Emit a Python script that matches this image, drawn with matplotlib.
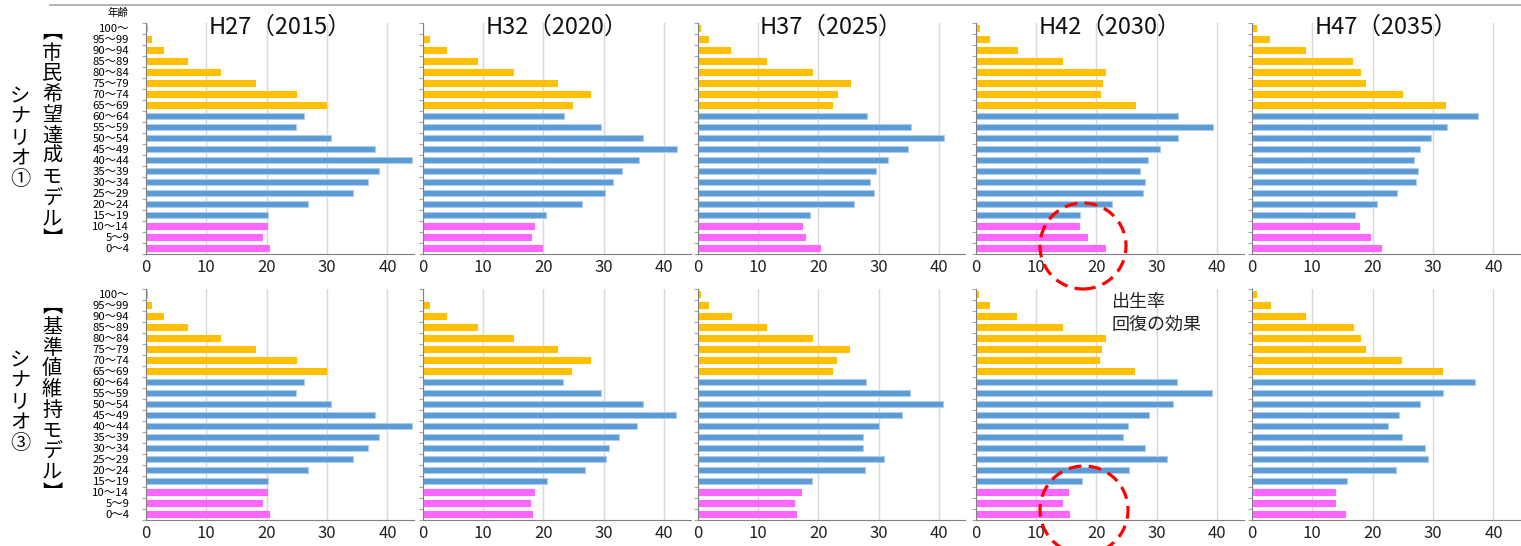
import numpy as np
import matplotlib
matplotlib.use("Agg")
import matplotlib.pyplot as plt
from matplotlib.patches import Ellipse
from matplotlib.lines import Line2D

plt.rcParams['font.family'] = ['Noto Sans CJK JP', 'DejaVu Sans']

# --- data (top row of each panel = 100～) ---
ages = ["100～", "95～99", "90～94", "85～89", "80～84", "75～79", "70～74", "65～69",
        "60～64", "55～59", "50～54", "45～49", "40～44", "35～39", "30～34", "25～29",
        "20～24", "15～19", "10～14", "5～9", "0～4"]
years = ["H27（2015）", "H32（2020）", "H37（2025）", "H42（2030）", "H47（2035）"]

# シナリオ① 市民希望達成モデル
s1_2015 = [0.2, 0.8, 2.8, 6.8, 12.3, 18.1, 24.9, 29.8, 26.2, 24.8, 30.7, 38.0, 44.1, 38.6, 36.7, 34.3, 26.8, 20.2, 20.1, 19.2, 20.4]
s1_2020 = [0.1, 1.1, 3.9, 9.0, 15.0, 22.3, 27.8, 24.8, 23.4, 29.5, 36.6, 42.2, 35.9, 33.1, 31.5, 30.2, 26.4, 20.4, 18.5, 18.0, 19.8]
s1_2025 = [0.4, 1.8, 5.4, 11.4, 19.0, 25.3, 23.1, 22.3, 28.1, 35.4, 40.9, 34.8, 31.6, 29.5, 28.6, 29.2, 26.0, 18.7, 17.3, 17.8, 20.3]
s1_2030 = [0.5, 2.2, 6.8, 14.3, 21.5, 20.9, 20.7, 26.5, 33.6, 39.3, 33.5, 30.6, 28.5, 27.3, 28.1, 27.8, 22.6, 17.3, 17.1, 18.4, 21.5]
s1_2035 = [0.65, 2.8, 8.8, 16.6, 17.9, 18.7, 24.9, 32.0, 37.5, 32.3, 29.6, 27.8, 26.8, 27.5, 27.1, 24.0, 20.7, 17.1, 17.7, 19.6, 21.4]

# シナリオ③ 基準値維持モデル
s3_2015 = [0.2, 0.8, 2.8, 6.8, 12.3, 18.1, 24.9, 29.8, 26.2, 24.8, 30.7, 38.0, 44.1, 38.6, 36.7, 34.3, 26.8, 20.2, 20.1, 19.2, 20.4]
s3_2020 = [0.1, 1.1, 3.9, 9.0, 15.0, 22.3, 27.8, 24.6, 23.3, 29.5, 36.6, 42.0, 35.5, 32.5, 30.9, 30.4, 27.0, 20.6, 18.5, 17.8, 18.2]
s3_2025 = [0.35, 1.7, 5.5, 11.4, 18.9, 25.1, 23.0, 22.2, 27.9, 35.2, 40.6, 33.9, 30.0, 27.4, 27.5, 30.9, 27.8, 18.9, 17.2, 16.0, 16.4]
s3_2030 = [0.45, 2.3, 6.7, 14.4, 21.5, 20.8, 20.5, 26.3, 33.3, 39.1, 32.8, 28.7, 25.3, 24.4, 28.0, 31.7, 25.5, 17.6, 15.3, 14.4, 15.5]
s3_2035 = [0.65, 3.0, 8.8, 16.7, 17.9, 18.7, 24.7, 31.5, 37.0, 31.6, 27.8, 24.3, 22.6, 24.8, 28.6, 29.1, 23.8, 15.7, 13.8, 13.8, 15.4]

rows = [[s1_2015, s1_2020, s1_2025, s1_2030, s1_2035],
        [s3_2015, s3_2020, s3_2025, s3_2030, s3_2035]]
row_names = ["︻市民希望達成モデル︼", "︻基準値維持モデル︼"]
scen_names = ["シナリオ①", "シナリオ③"]

ORANGE = '#FFC000'
BLUE = '#5B9BD5'
PINK = '#FF66FF'
colors = [ORANGE] * 8 + [BLUE] * 10 + [PINK] * 3
edges = [ORANGE] * 8 + ['#AFCDEB'] * 10 + [PINK] * 3

W, H = 1521, 546
fig = plt.figure(figsize=(W / 100, H / 100), dpi=100)


def add_px_axes(left, top, width, height):
    return fig.add_axes([left / W, 1 - (top + height) / H, width / W, height / H])


col_left = [146, 422.5, 697.5, 975.5, 1252]
row_top = [22.5, 288.5]
y = np.arange(len(ages))

for r in range(2):
    for c in range(5):
        ax = add_px_axes(col_left[c], row_top[r], 268, 231)
        ax.barh(y, rows[r][c], height=0.62, color=colors, edgecolor=edges, linewidth=0.8, zorder=2)
        ax.set_ylim(20.5, -0.5)
        ax.set_xlim(0, 44.4)
        ax.set_xticks([0, 10, 20, 30, 40])
        ax.grid(axis='x', color='#D9D9D9', linewidth=1.0, zorder=0)
        ax.set_axisbelow(True)
        for s in ['top', 'right']:
            ax.spines[s].set_visible(False)
        ax.spines['left'].set_color('#808080')
        ax.spines['bottom'].set_color('#808080')
        ax.tick_params(axis='x', length=0, labelsize=12, pad=4, labelcolor='#222222')
        ax.set_yticks(np.arange(-0.5, 21, 1), minor=True)
        ax.tick_params(axis='y', which='minor', length=3, color='#A6A6A6', width=0.8)
        if c == 0:
            ax.set_yticks(y)
            ax.set_yticklabels(ages, fontsize=8.2)
            ax.tick_params(axis='y', which='major', length=0, pad=12)
        else:
            ax.set_yticks([])
        if r == 0:
            ax.text(0.5, 1 - 5 / 231, years[c], transform=ax.transAxes, ha='center', va='center',
                    fontsize=17, color='#111111')

# row labels (vertical, stacked characters)
fig.text(52 / W, 1 - 136 / H, "\n".join(row_names[0]), ha='center', va='center', fontsize=14.5, linespacing=0.98)
fig.text(20 / W, 1 - 138 / H, "\n".join(scen_names[0]), ha='center', va='center', fontsize=14.5, linespacing=0.98)
fig.text(52 / W, 1 - 400 / H, "\n".join(row_names[1]), ha='center', va='center', fontsize=14.5, linespacing=0.98)
fig.text(20 / W, 1 - 402 / H, "\n".join(scen_names[1]), ha='center', va='center', fontsize=14.5, linespacing=0.98)

fig.text(118 / W, 1 - 13 / H, "年齢", ha='center', va='center', fontsize=7.5)

# top rule
fig.add_artist(Line2D([50 / W, 1.0], [1 - 5 / H, 1 - 5 / H], color='#A6A6A6', linewidth=1.2))

# annotation
fig.text(1112 / W, 1 - 313 / H, "出生率\n回復の効果", ha='left', va='center', fontsize=13, linespacing=1.35,
         color='#222222')

# red dashed circles
for cx, cy, rr in [(1083, 246, 43), (1084, 510, 44)]:
    fig.add_artist(Ellipse((cx / W, 1 - cy / H), 2 * rr / W, 2 * rr / H, transform=fig.transFigure,
                           fill=False, edgecolor='#FF0000', linewidth=2.3, linestyle=(0, (4, 2.3)),
                           zorder=10, clip_on=False))

fig.savefig("out.png", dpi=100)
